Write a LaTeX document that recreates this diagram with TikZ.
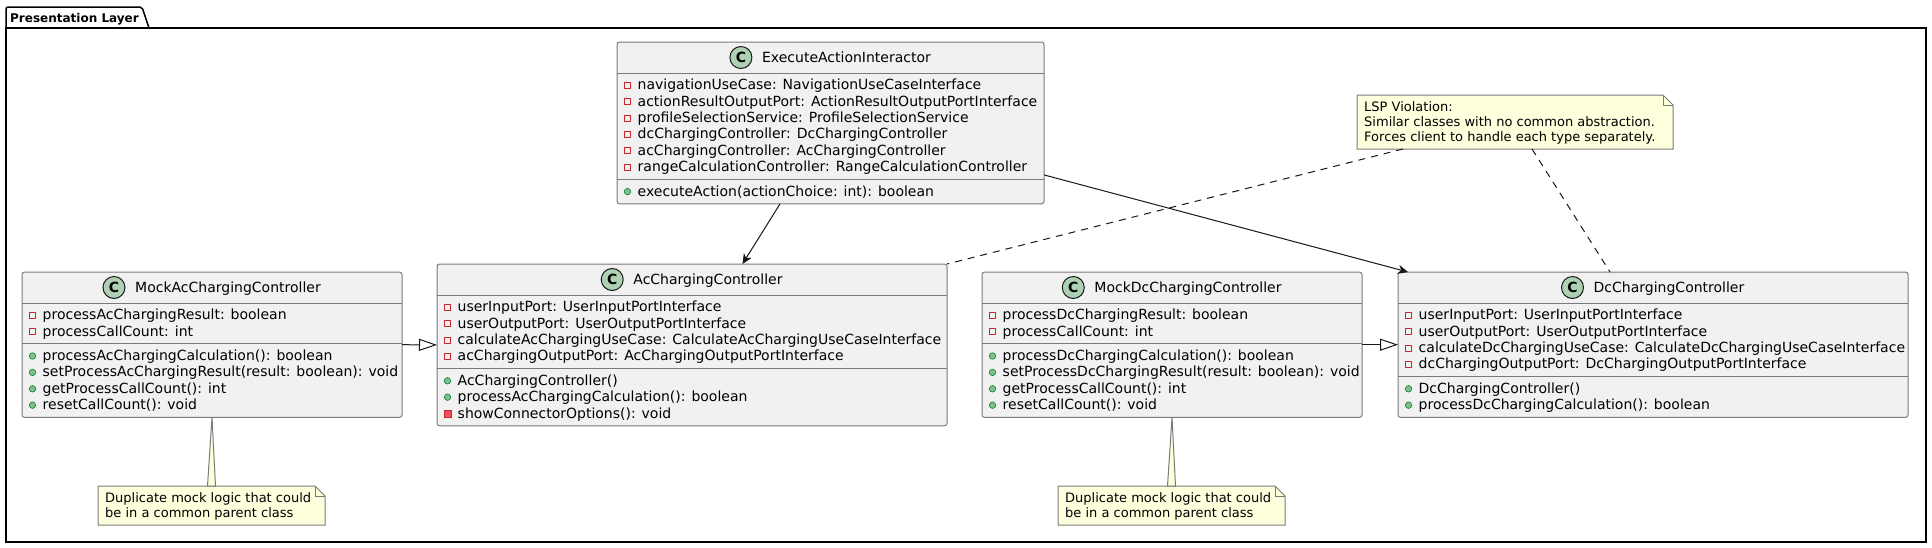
\documentclass[tikz,border=0pt]{standalone}
\usepackage{fontspec}
\setmainfont{DejaVu Sans}
\usetikzlibrary{calc,arrows.meta}

\definecolor{classbg}{HTML}{F1F1F1}
\definecolor{lineclr}{HTML}{181818}
\definecolor{bordclr}{HTML}{7A7A7A}
\definecolor{notebg}{HTML}{FEFFDD}
\definecolor{cfill}{HTML}{ADD1B2}
\definecolor{privred}{HTML}{C82930}
\definecolor{privfill}{HTML}{F24D5C}
\definecolor{pubgreen}{HTML}{84BE84}
\definecolor{pubgreenb}{HTML}{038048}

\tikzset{
  classbox/.style={draw=bordclr, fill=classbg, line width=1pt, rounded corners=2.5pt, inner sep=0pt, outer sep=0pt},
  sepline/.style={draw=bordclr, line width=1pt},
  rowtext/.style={anchor=base west, inner sep=0pt, font=\fontsize{14}{16}\selectfont},
  titletext/.style={anchor=base, inner sep=0pt, font=\fontsize{14}{16}\selectfont},
  cicon/.style={circle, minimum size=22pt, inner sep=0pt, fill=cfill, draw=lineclr, line width=1pt, font=\fontsize{14}{16}\selectfont\bfseries},
  iconf/.style={rectangle, minimum size=6pt, inner sep=0pt, draw=privred, line width=1pt},
  iconp/.style={rectangle, minimum size=7pt, inner sep=0pt, draw=privred, fill=privfill, line width=0.8pt},
  iconm/.style={circle, minimum size=6.5pt, inner sep=0pt, draw=pubgreenb, fill=pubgreen, line width=0.6pt},
  notebd/.style={draw=bordclr, fill=notebg, line width=1pt},
  notetext/.style={anchor=west, align=left, inner sep=0pt, font=\fontsize{13}{15}\selectfont},
  assoc/.style={draw=lineclr, line width=1pt, -{Stealth[length=10pt, width=9pt, inset=3pt]}},
  gen/.style={draw=lineclr, line width=1pt, -{Triangle[length=18pt, width=12pt, fill=white]}},
  notelink/.style={draw=lineclr, line width=1pt, dash pattern=on 7pt off 6pt},
  pkgline/.style={draw=black, line width=1.5pt},
}

% #1 name, #2 x, #3 y, #4 width, #5 n attrs, #6 n methods, #7 title, #8 attrs, #9 methods
\newcommand\umlclass[9]{%
  \pgfmathsetmacro\clsh{31+8+16.4*#5+8+16.4*#6}%
  \pgfmathsetmacro\clssep{31+8+16.4*#5}%
  \node[classbox, minimum width=#4pt, minimum height=\clsh pt, anchor=north west] (#1) at (#2,#3) {};
  \draw[sepline] ($(#1.north west)+(0,31)$) -- ($(#1.north east)+(0,31)$);
  \draw[sepline] ($(#1.north west)+(0,\clssep)$) -- ($(#1.north east)+(0,\clssep)$);
  \node[titletext] (#1-t) at ($(#1.north)+(16,20.3)$) {#7};
  \node[cicon] (#1-c) at ($(#1-t.base west)+(-21,-4.8)$) {C};
  \foreach \k/\txt [count=\i] in {#8} {%
    \pgfmathsetmacro\yc{43.2+16.4*(\i-1)}%
    \node[iconf] (#1-ai\i) at ($(#1.north west)+(10.5,\yc)$) {};
    \node[rowtext] (#1-a\i) at ($(#1.north west)+(20.5,\yc+4.5)$) {\txt};
  }
  \foreach \k/\txt [count=\i] in {#9} {%
    \pgfmathsetmacro\yc{51.2+16.4*#5+16.4*(\i-1)}%
    \if p\k
      \node[iconp] (#1-mi\i) at ($(#1.north west)+(10.5,\yc)$) {};
    \else
      \node[iconm] (#1-mi\i) at ($(#1.north west)+(10.5,\yc)$) {};
    \fi
    \node[rowtext] (#1-m\i) at ($(#1.north west)+(20.5,\yc+4.5)$) {\txt};
  }
}

% #1 name, #2 x, #3 y, #4 w, #5 h, #6 text
\newcommand\umlnote[6]{%
  \node[minimum width=#4pt, minimum height=#5pt, inner sep=0pt, outer sep=0pt, anchor=north west] (#1) at (#2,#3) {};
  \draw[notebd] (#1.north west) -- ($(#1.north east)+(-10,0)$) -- ($(#1.north east)+(0,10)$) -- (#1.south east) -- (#1.south west) -- cycle;
  \draw[notebd, fill=none] ($(#1.north east)+(-10,0)$) -- ($(#1.north east)+(-10,10)$) -- ($(#1.north east)+(0,10)$);
  \node[notetext] (#1-txt) at ($(#1.west)+(7,0.5)$) {#6};
}

\begin{document}
\begin{tikzpicture}[x=1pt, y=-1pt]
\useasboundingbox[fill=white] (0,0) rectangle (1932,547);

% package
\node[pkgline, minimum width=1920pt, minimum height=514pt, anchor=north west, inner sep=0pt, outer sep=0pt] (pkg) at (6,28) {};
\node[anchor=base west, inner sep=0pt, font=\fontsize{12}{14}\selectfont\bfseries] (pkgtitle) at (10,22) {Presentation Layer};
\coordinate (tabtop) at (pkgtitle.east |- 0,7);
\draw[pkgline, rounded corners=2pt] (pkg.north west) -- (pkg.north west |- tabtop) -- ($(tabtop)+(3,0)$) -- ($(tabtop)+(10,21)$);

% classes
\umlclass{exec}{617}{42}{427}{6}{1}{ExecuteActionInteractor}{%
f/navigationUseCase: NavigationUseCaseInterface,
f/actionResultOutputPort: ActionResultOutputPortInterface,
f/profileSelectionService: ProfileSelectionService,
f/dcChargingController: DcChargingController,
f/acChargingController: AcChargingController,
f/rangeCalculationController: RangeCalculationController}{%
m/executeAction(actionChoice: int): boolean}

\umlclass{mockac}{22}{272}{380}{2}{4}{MockAcChargingController}{%
f/processAcChargingResult: boolean,
f/processCallCount: int}{%
m/processAcChargingCalculation(): boolean,
m/setProcessAcChargingResult(result: boolean): void,
m/getProcessCallCount(): int,
m/resetCallCount(): void}

\umlclass{ac}{437}{264}{510}{4}{3}{AcChargingController}{%
f/userInputPort: UserInputPortInterface,
f/userOutputPort: UserOutputPortInterface,
f/calculateAcChargingUseCase: CalculateAcChargingUseCaseInterface,
f/acChargingOutputPort: AcChargingOutputPortInterface}{%
m/AcChargingController(),
m/processAcChargingCalculation(): boolean,
p/showConnectorOptions(): void}

\umlclass{mockdc}{982}{272}{380}{2}{4}{MockDcChargingController}{%
f/processDcChargingResult: boolean,
f/processCallCount: int}{%
m/processDcChargingCalculation(): boolean,
m/setProcessDcChargingResult(result: boolean): void,
m/getProcessCallCount(): int,
m/resetCallCount(): void}

\umlclass{dc}{1398}{272}{510}{4}{2}{DcChargingController}{%
f/userInputPort: UserInputPortInterface,
f/userOutputPort: UserOutputPortInterface,
f/calculateDcChargingUseCase: CalculateDcChargingUseCaseInterface,
f/dcChargingOutputPort: DcChargingOutputPortInterface}{%
m/DcChargingController(),
m/processDcChargingCalculation(): boolean}

% notes
\umlnote{lsp}{1357}{95}{316}{54}{LSP Violation:\\Similar classes with no common abstraction.\\Forces client to handle each type separately.}
\umlnote{noteac}{98}{486}{227}{39}{Duplicate mock logic that could\\be in a common parent class}
\umlnote{notedc}{1058}{486}{227}{39}{Duplicate mock logic that could\\be in a common parent class}

\draw[notebd] (mockac.south) -- ($(noteac.north)+(4,0)$) -- ($(noteac.north)+(-4,0)$) -- cycle;
\draw[notebd] (mockdc.south) -- ($(notedc.north)+(4,0)$) -- ($(notedc.north)+(-4,0)$) -- cycle;

% connectors
\draw[assoc] (exec) -- (ac);
\draw[assoc] ($(exec.east)+(0,52)$) -- ($(dc.north west)+(10,0)$);
\draw[gen] (mockac.east) -- (ac.west);
\draw[gen] (mockdc.east) -- (dc.west);
\draw[notelink] ($(lsp.south west)+(46,0)$) -- (ac.north east);
\draw[notelink] ($(lsp.south west)+(175,0)$) -- ($(dc.north west)+(212,0)$);
\end{tikzpicture}
\end{document}
